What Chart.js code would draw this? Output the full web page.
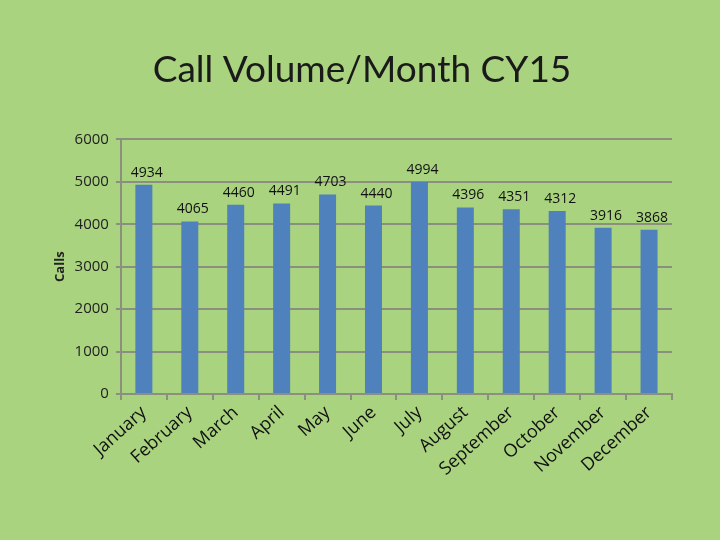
<!DOCTYPE html>
<html lang="en">
<head>
    <meta charset="UTF-8">
    <title>Call Volume/Month CY15</title>
    <script src="https://cdn.jsdelivr.net/npm/chart.js"></script>
    <style>
        body {
            margin: 0;
            background-color: #a9d37f;
        }
        #wrap {
            width: 720px;
            height: 540px;
        }
    </style>
</head>
<body>
    <div id="wrap">
        <canvas id="myChart" width="720" height="540"></canvas>
    </div>

    <script>
        // Data
        const months = ['January', 'February', 'March', 'April', 'May', 'June',
            'July', 'August', 'September', 'October', 'November', 'December'];
        const calls = [4934, 4065, 4460, 4491, 4703, 4440, 4994, 4396, 4351, 4312, 3916, 3868];
        const yTicks = [0, 1000, 2000, 3000, 4000, 5000, 6000];

        const gridGrey = '#8a8f80';

        // Value labels above bars
        const valueLabels = {
            id: 'valueLabels',
            afterDatasetsDraw(chart) {
                const ctx = chart.ctx;
                const meta = chart.getDatasetMeta(0);
                ctx.save();
                ctx.font = '14px "Open Sans", sans-serif';
                ctx.fillStyle = '#111';
                ctx.textAlign = 'center';
                ctx.textBaseline = 'bottom';
                meta.data.forEach((bar, i) => {
                    ctx.fillText(calls[i], bar.x + 3, bar.y - 5);
                });
                ctx.restore();
            }
        };

        const ctx = document.getElementById('myChart').getContext('2d');
        new Chart(ctx, {
            type: 'bar',
            data: {
                labels: months,
                datasets: [{
                    data: calls,
                    backgroundColor: '#4f81bd',
                    barPercentage: 0.37,
                    categoryPercentage: 1
                }]
            },
            options: {
                responsive: false,
                animation: false,
                layout: {
                    padding: { left: 52, right: 48, top: 10, bottom: 58 }
                },
                scales: {
                    x: {
                        grid: {
                            drawOnChartArea: false,
                            color: gridGrey,
                            lineWidth: 2,
                            tickLength: 6
                        },
                        border: { color: gridGrey, width: 2 },
                        ticks: {
                            minRotation: 42,
                            maxRotation: 42,
                            color: '#111',
                            padding: 2,
                            font: { family: '"Open Sans", sans-serif', size: 18 }
                        }
                    },
                    y: {
                        min: 0,
                        max: 6000,
                        afterBuildTicks: axis => {
                            axis.ticks = yTicks.map(v => ({ value: v }));
                        },
                        grid: {
                            color: gridGrey,
                            lineWidth: 2,
                            tickLength: 5
                        },
                        border: { color: gridGrey, width: 2 },
                        ticks: {
                            color: '#222',
                            padding: 7,
                            callback: v => String(v),
                            font: { family: '"Open Sans", sans-serif', size: 15 }
                        },
                        title: {
                            display: true,
                            text: 'Calls',
                            color: '#222',
                            padding: { top: 0, bottom: 0 },
                            font: { family: '"Open Sans", sans-serif', size: 13, weight: 'bold' }
                        }
                    }
                },
                plugins: {
                    legend: { display: false },
                    tooltip: { enabled: false },
                    title: {
                        display: true,
                        text: 'Call Volume/Month CY15',
                        color: '#1a1a1a',
                        padding: { top: 38, bottom: 47 },
                        font: { family: 'Lato, "Open Sans", sans-serif', size: 37, weight: 'normal' }
                    }
                }
            },
            plugins: [valueLabels]
        });
    </script>
</body>
</html>
